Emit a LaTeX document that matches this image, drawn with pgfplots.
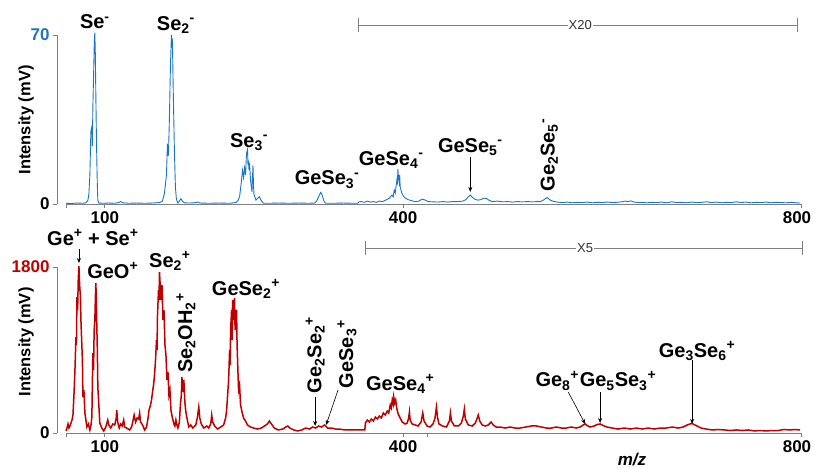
\documentclass[border=0pt]{standalone}
\usepackage{fontspec}
\setmainfont{Liberation Sans}
\usepackage{xcolor}
\usepackage{pgfplots}
\pgfplotsset{compat=1.18}
\usetikzlibrary{arrows.meta}
\definecolor{specblue}{HTML}{1A75C9}
\definecolor{specred}{HTML}{C00000}
\definecolor{axgray}{HTML}{808080}

\pgfplotsset{
  spec/.style={
    scale only axis, width=735pt,
    xmin=61, xmax=800, enlargelimits=false,
    axis lines*=left, axis y line shift=9pt,
    axis line style={draw=axgray, line width=0.9pt},
    tick style={draw=axgray, line width=0.9pt},
    tick align=outside, major tick length=4pt,
    /pgf/number format/assume math mode=true,
    tick label style={font=\fontsize{17}{19}\selectfont\bfseries},
    clip=false,
  },
}
\tikzset{
  lbl/.style={font=\fontsize{20}{23}\selectfont\bfseries, inner sep=0pt},
  arr/.style={-{Stealth[length=5pt,width=4pt]}, line width=0.6pt},
}

\begin{document}
\begin{tikzpicture}
\path[use as bounding box] (0pt,0pt) rectangle (813pt,-468pt);

% negative ions
\begin{axis}[spec,
  at={(66pt,-204pt)}, anchor=south west, height=169pt,
  ymin=0, ymax=70,
  xtick={61,100,400,800}, xticklabels={,100,400,\hspace*{-8pt}800},
  ytick={0,70}, yticklabels={0,\textcolor{specblue}{70}},
  ylabel={Intensity (mV)},
  every axis y label/.style={at={(rel axis cs:-0.0544,0.497)}, rotate=90, anchor=center,
    font=\fontsize{16.5}{18}\selectfont\bfseries},
]
\addplot[specblue, line width=0.9pt] coordinates {
(61,0.3)(66,0.2)(72,0.4)(78,0.3)(81,0.5)(83,1.5)(84,4)(85,12)(86,30)(87,32)(87.5,24)
(88,40)(89,58)(89.5,68)(90,71)(90.5,62)(91,45)(91.5,30)(92,18)(92.5,8)(93,1.5)(94,0.4)
(98,0.3)(104,0.4)(110,0.3)(114,0.6)(116,1.0)(118,0.5)(124,0.3)(132,0.4)(140,0.3)(148,0.4)
(155,0.6)(158,1.2)(160,4.5)(162,12)(163,25)(164,20)(165,36)(166,57)(167,70)(167.5,66)
(168,67)(168.5,55)(169,43)(170,22)(171,7)(172,2)(173.5,0.4)(175,1.2)(176.5,2.2)(178,1.2)
(180,0.5)(185,0.4)(190,0.5)(193.5,0.8)(196,0.4)(205,0.3)(215,0.4)(225,0.3)(232,0.6)
(234,1.5)(235.5,3)(237,8)(238.5,14)(239.5,11)(240.5,15)(241.5,12)(242.5,21)(243.5,22.6)
(244,16)(244.5,18)(245,14)(245.5,17)(246.5,10)(248,5)(249,16)(249.5,8)(250,4)(252,1.6)
(254,2.5)(255.5,3)(257,1.6)(259.5,0.3)(265,0.3)(275,0.4)(285,0.3)(295,0.4)(305,0.3)
(311,0.4)(313,1.2)(315,3)(317,4.8)(318,4.3)(319,3)(320.5,1)(322,0.3)(330,0.3)(340,0.4)
(350,0.3)(354.5,0.3)(355.5,0.9)(358,1.0)(361,0.7)(364,1.2)(367,0.8)(370,1.0)(373,0.7)
(376,1.2)(379,1.0)(382,1.5)(386,2.4)(388.7,3.7)(390,3)(391,5.8)(392,4.5)(393.7,10)
(394.2,8)(394.7,14.4)(395.3,11)(396,9)(396.5,12)(397,7)(398.7,4.5)(400,3.4)(402,2.5)
(405,1.8)(408,1.4)(412,1.0)(416,1.2)(418,1.8)(420,2.0)(422,1.6)(425,1.0)(430,0.9)
(435,0.8)(440,1.0)(445,0.8)(450,1.0)(455,1.0)(460,1.2)(463,1.8)(465.5,3)(467.5,3.7)
(469.5,2.8)(472,2)(475,1.6)(478,1.8)(481,2.4)(484,2.2)(487,1.4)(490,1.0)(495,1.2)
(500,0.9)(505,1.0)(510,0.8)(515,1.0)(520,0.9)(525,1.0)(530,0.9)(535,1.0)(538,1.0)
(541,1.6)(543,2.2)(544.7,2.7)(546,2.3)(548,1.6)(551,1.1)(555,0.8)(560,0.6)(565,0.8)
(570,0.5)(575,0.7)(580,0.6)(585,0.8)(590,0.5)(595,0.7)(600,0.6)(605,0.8)(610,0.6)
(615,0.7)(620,0.9)(623,1.2)(626,1.0)(629,1.3)(632,0.8)(636,0.6)(640,0.7)(645,0.5)
(650,0.7)(655,0.6)(660,0.8)(665,0.5)(670,0.9)(675,0.6)(680,0.7)(685,0.5)(690,0.8)
(695,0.6)(700,0.7)(705,0.9)(710,0.6)(715,0.8)(720,0.5)(725,0.7)(730,0.6)(735,0.9)
(740,0.6)(745,0.8)(750,0.5)(755,0.7)(760,0.6)(765,0.8)(770,0.5)(775,0.7)(780,0.6)
(785,0.5)(790,0.7)(795,0.5)(799,0.4)
};
% x20 bracket
\draw[axgray, line width=0.8pt] (axis cs:354.8,74.1) -- (axis cs:796.5,74.1);
\draw[axgray, line width=0.8pt] (axis cs:354.8,71.2) -- (axis cs:354.8,77.0);
\draw[axgray, line width=0.8pt] (axis cs:796.5,71.2) -- (axis cs:796.5,77.0);
\node[fill=white, inner sep=1pt, text=black!80, font=\fontsize{13}{15}\selectfont] at (axis cs:578,74.1) {X20};
% peak labels
\node[lbl, anchor=base] at (axis cs:90,72.5) {Se\textsuperscript{-}};
\node[lbl, anchor=base] at (axis cs:171.5,72) {Se\textsubscript{2}\textsuperscript{-}};
\node[lbl, anchor=base] at (axis cs:245,23.6) {Se\textsubscript{3}\textsuperscript{-}};
\node[lbl, anchor=base] at (axis cs:323.5,7.9) {GeSe\textsubscript{3}\textsuperscript{-}};
\node[lbl, anchor=base] at (axis cs:388,16.1) {GeSe\textsubscript{4}\textsuperscript{-}};
\node[lbl, anchor=base] at (axis cs:467.5,21.5) {GeSe\textsubscript{5}\textsuperscript{-}};
\draw[arr] (axis cs:467.5,19.5) -- (axis cs:467.5,5);
\node[lbl, rotate=90, anchor=center] at (axis cs:547,20.3) {Ge\textsubscript{2}Se\textsubscript{5}\textsuperscript{-}};
\end{axis}

% positive ions
\begin{axis}[spec,
  at={(66pt,-433pt)}, anchor=south west, height=166pt,
  ymin=0, ymax=1800,
  xtick={61,100,400,424,800}, xticklabels={,100,400,,\hspace*{-8pt}800},
  ytick={0,1800}, yticklabels={0,\textcolor{specred}{1800}},
  ylabel={Intensity (mV)},
  every axis y label/.style={at={(rel axis cs:-0.0544,0.548)}, rotate=90, anchor=center,
    font=\fontsize{16.5}{18}\selectfont\bfseries},
  xlabel={m/z},
  every axis x label/.style={at={(rel axis cs:0.77,0)}, anchor=north, yshift=-17pt,
    font=\fontsize{17}{20}\selectfont\bfseries\itshape},
]
\addplot[specred, line width=1.5pt] coordinates {
(61,22)(62,54)(63,98)(64,54)(65,76)(67,141)(68,195)(69,412)(70,683)(71,1040)(71.5,954)
(72,1474)(72.7,1333)(73.3,1658)(74,1810)(74.7,1604)(75.5,1474)(76,1225)(77,932)(77.5,791)
(78,390)(79,466)(80,217)(81,141)(82,65)(83.5,98)(85,33)(86,76)(87,173)(88,867)(88.7,683)
(89.3,1117)(90,1225)(90.5,1442)(91,1626)(91.5,1442)(92,1149)(92.5,900)(93,499)(94,304)
(95,108)(97,54)(99,22)(101,65)(103,141)(104,87)(106,54)(108,98)(110,87)(111.5,163)
(112,249)(113,119)(114.5,54)(116,98)(117.5,76)(119,141)(120,65)(122,54)(125,33)(127,65)
(128.5,141)(129.5,195)(131,119)(132.5,163)(134,152)(135,217)(136,119)(138,87)(140,33)
(142,65)(143.5,163)(144.5,249)(146,304)(147,358)(148,444)(149,520)(150,629)(151,791)
(152,1008)(152.5,900)(153,1279)(154,1550)(154.5,1442)(155,1745)(156.5,1442)(157.5,1604)
(158.5,1225)(159.5,1333)(160.5,954)(161.5,845)(162.5,575)(163.5,661)(164.5,412)(165.5,466)
(166.5,249)(168,163)(169.5,98)(170.5,76)(171.5,141)(172.5,87)(173.5,54)(175,119)(176,304)
(177,412)(177.5,607)(178.5,444)(179.5,575)(180.5,336)(181.5,228)(183,141)(184.5,65)
(186.5,87)(188.5,54)(191.5,87)(193,163)(194.5,282)(195.5,163)(197,98)(199.5,54)(202.5,76)
(204.5,54)(206.5,98)(207.5,195)(208.5,119)(210.5,76)(213.5,43)(216.5,65)(219.5,87)
(221.5,163)(222.5,249)(223.5,412)(224.5,575)(225.5,900)(226,737)(226.5,1117)(227.5,1333)
(228,1008)(228.5,1442)(229.5,1225)(230.5,1463)(231,1117)(231.5,1171)(232.5,1333)(233,954)
(233.5,791)(234.5,466)(235.5,520)(236.5,304)(238,228)(239.5,163)(241.5,130)(243.5,87)
(246.5,65)(249.5,54)(253.5,43)(257.5,54)(260.5,76)(263.5,98)(265.5,130)(267.5,98)
(270.5,54)(274.5,33)(279,43)(282,65)(284,76)(286,54)(290,33)(294,22)(298,33)(302,54)
(306,43)(309,65)(312,54)(315,76)(318,65)(321,87)(324,54)(328,54)(332,43)(336,43)(341,33)
(346.5,33)(351.5,33)(356.5,33)(361.5,33)(362,108)(364,141)(366,119)(368,152)(370,130)
(372,173)(374,152)(376,184)(378,163)(380,217)(382,195)(384,238)(385.5,217)(387,304)
(388,271)(389,358)(390,314)(390.5,390)(391.5,325)(392.5,358)(393.5,271)(395,206)(397,163)
(399,119)(402,98)(404,108)(405.5,163)(406.3,228)(407,141)(409,98)(412,87)(415,76)(418,119)
(419.7,217)(421,130)(424,76)(427,65)(430,98)(432,163)(433.5,282)(434.5,173)(436,98)
(439.5,76)(443.5,65)(446.5,130)(447.5,217)(448.5,130)(451.5,76)(455.5,76)(458.5,108)
(460.5,184)(461.5,260)(462.5,152)(465.5,87)(469.5,76)(472.5,108)(474.5,163)(475.5,195)
(477,130)(479.5,87)(482.5,76)(485.5,87)(488.5,119)(490.5,87)(493.5,65)(497.5,65)(502.5,54)
(507.5,65)(512.5,54)(517.5,54)(523.5,65)(529,76)(534,76)(539,65)(544,54)(549,54)(554,65)
(559,54)(564,54)(569,65)(574,54)(578,65)(581,87)(583,98)(585,81)(588,65)(592,76)(595,92)
(598,98)(601,81)(605,65)(610,54)(616,43)(622.5,54)(628.5,43)(634.5,54)(640.5,43)(646.5,54)
(652.5,43)(658.5,54)(664.5,54)(670.5,65)(676.5,54)(681.5,65)(685.5,87)(688.5,98)(690.5,103)
(692.5,92)(695.5,76)(699.5,54)(704.5,43)(711,33)(717,38)(723,33)(729,27)(735,33)(741,27)
(747,33)(753,22)(759,27)(765,22)(771,27)(777,27)(783,38)(789,33)(794,38)(799,33)
};
% x5 bracket
\draw[axgray, line width=0.8pt] (axis cs:361.8,2005) -- (axis cs:801,2005);
\draw[axgray, line width=0.8pt] (axis cs:361.8,1930) -- (axis cs:361.8,2080);
\draw[axgray, line width=0.8pt] (axis cs:801,1930) -- (axis cs:801,2080);
\node[fill=white, inner sep=1pt, text=black!80, font=\fontsize{13}{15}\selectfont] at (axis cs:583,2005) {X5};
% peak labels
\node[lbl, anchor=base] at (axis cs:88,2038) {Ge\textsuperscript{+} + Se\textsuperscript{+}};
\draw[arr] (axis cs:74,1995) -- (axis cs:74,1843);
\node[lbl, anchor=base] at (axis cs:108,1680) {GeO\textsuperscript{+}};
\node[lbl, anchor=base] at (axis cs:165.5,1800) {Se\textsubscript{2}\textsuperscript{+}};
\node[lbl, rotate=90, anchor=center] at (axis cs:181.5,1084) {Se\textsubscript{2}OH\textsubscript{2}\textsuperscript{+}};
\node[lbl, anchor=base] at (axis cs:242,1496) {GeSe\textsubscript{2}\textsuperscript{+}};
\node[lbl, rotate=90, anchor=center] at (axis cs:311.5,846) {Ge\textsubscript{2}Se\textsubscript{2}\textsuperscript{+}};
\draw[arr] (axis cs:311.5,390) -- (axis cs:311.5,76);
\node[lbl, rotate=90, anchor=center] at (axis cs:343.5,856) {GeSe\textsubscript{3}\textsuperscript{+}};
\draw[arr] (axis cs:334.5,466) -- (axis cs:322.5,87);
\node[lbl, anchor=base] at (axis cs:397,466) {GeSe\textsubscript{4}\textsuperscript{+}};
\node[lbl, anchor=base] at (axis cs:555,499) {Ge\textsubscript{8}\textsuperscript{+}};
\draw[arr] (axis cs:566,444) -- (axis cs:583,98);
\node[lbl, anchor=base] at (axis cs:616,499) {Ge\textsubscript{5}Se\textsubscript{3}\textsuperscript{+}};
\draw[arr] (axis cs:598,444) -- (axis cs:598,108);
\node[lbl, anchor=base] at (axis cs:695.5,824) {Ge\textsubscript{3}Se\textsubscript{6}\textsuperscript{+}};
\draw[arr] (axis cs:690.5,791) -- (axis cs:690.5,98);
\end{axis}
\end{tikzpicture}
\end{document}
